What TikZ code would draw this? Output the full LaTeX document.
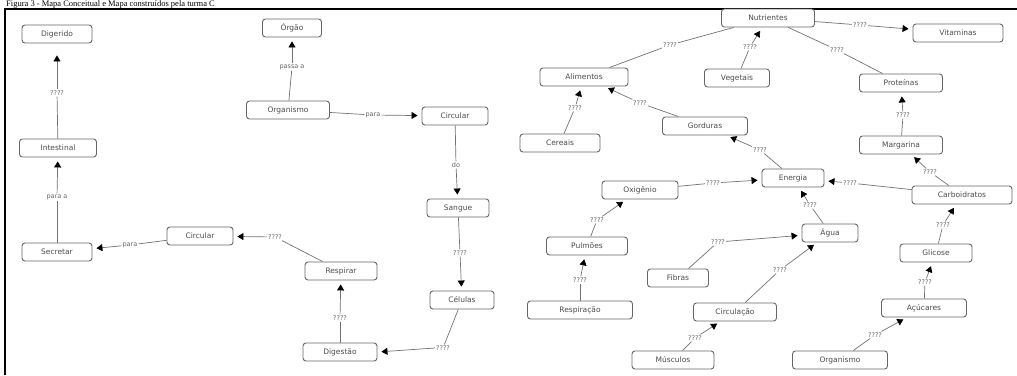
\documentclass[tikz,border=0pt]{standalone}
\usepackage{fontspec}
\setmainfont{DejaVu Sans}
\newfontfamily\capfont{Liberation Serif}
\usetikzlibrary{arrows.meta}
\tikzset{
  cbox/.style={draw=black!60, rounded corners=3pt, line width=0.9pt, fill=white,
    font=\fontsize{7.5}{8}\selectfont, text=black!70, inner sep=1pt, minimum height=18pt},
  lab/.style={font=\fontsize{6.5}{7}\selectfont, text=black!60, inner sep=1pt},
  lnk/.style={draw=black!55, line width=0.7pt},
  arr/.style={lnk, -{Triangle[length=6pt,width=7pt,color=black]}, shorten >=4pt}
}
\begin{document}
\begin{tikzpicture}[x=1pt,y=-1pt]
\useasboundingbox (0,0) rectangle (1017,375);
\fill[white] (0,0) rectangle (1017,375);
% caption
\node[anchor=base west, inner sep=0, font=\capfont\fontsize{8.5}{9}\selectfont] (cap) at (6,6.3) {Figura 3 - Mapa Conceitual e Mapa construídos pela turma C};
% frame
\draw[line width=2pt] (5,375) -- (5,9) -- (1017,9);

% ---------- left map ----------
\node[cbox, minimum width=70pt] (dig) at (57,34) {Digerido};
\node[cbox, minimum width=77pt] (int) at (58,148) {Intestinal};
\node[cbox, minimum width=70pt] (sec) at (57,252) {Secretar};
\node[cbox, minimum width=66pt] (circB) at (200,236) {Circular};
\node[cbox, minimum width=72pt] (resp) at (341,271) {Respirar};
\node[cbox, minimum width=74pt] (dige) at (340,352) {Digestão};
\node[cbox, minimum width=64pt] (cel) at (462,300) {Células};
\node[cbox, minimum width=62pt] (sang) at (458,208) {Sangue};
\node[cbox, minimum width=66pt] (circA) at (455,116) {Circular};
\node[cbox, minimum width=83pt] (org) at (288,110) {Organismo};
\node[cbox, minimum width=59pt] (orgao) at (292,28) {Órgão};

\node[lab] (l1) at (57,93) {????};
\node[lab] (l2) at (57,197) {para a};
\node[lab] (l3) at (130,245) {para};
\node[lab] (l4) at (275,237) {????};
\node[lab] (l5) at (340,318) {????};
\node[lab] (l6) at (443,348) {????};
\node[lab] (l7) at (460,253) {????};
\node[lab] (l8) at (456,165) {do};
\node[lab] (l9) at (373,115) {para};
\node[lab] (l10) at (292,67) {passa a};

\draw[lnk] (int) -- (l1); \draw[arr, shorten >=12pt] (l1) -- (dig);
\draw[lnk] (sec) -- (l2); \draw[arr] (l2) -- (int);
\draw[lnk] (circB) -- (l3); \draw[arr] (l3) -- (sec);
\draw[lnk] (resp) -- (l4); \draw[arr] (l4) -- (circB);
\draw[lnk] (dige) -- (l5); \draw[arr] (l5) -- (resp);
\draw[lnk] (cel) -- (l6); \draw[arr] (l6.west) -- (dige.east);
\draw[lnk] (sang) -- (l7); \draw[arr] (l7) -- (cel);
\draw[lnk] (circA) -- (l8); \draw[arr] (l8) -- (sang);
\draw[lnk] (org) -- (l9); \draw[arr] (l9) -- (circA);
\draw[lnk] (org) -- (l10); \draw[arr] (l10) -- (orgao);

% ---------- right map ----------
\node[cbox, minimum width=93pt] (nut) at (768,18) {Nutrientes};
\node[cbox, minimum width=90pt] (vit) at (958,33) {Vitaminas};
\node[cbox, minimum width=88pt] (ali) at (584,77) {Alimentos};
\node[cbox, minimum width=65pt] (veg) at (737,78) {Vegetais};
\node[cbox, minimum width=83pt] (prot) at (901,83) {Proteínas};
\node[cbox, minimum width=83pt] (marg) at (901,145) {Margarina};
\node[cbox, minimum width=100pt] (carb) at (962,195) {Carboidratos};
\node[cbox, minimum width=62pt] (ener) at (793,178) {Energia};
\node[cbox, minimum width=76pt] (oxi) at (640,190) {Oxigênio};
\node[cbox, minimum width=85pt] (gord) at (705,126) {Gorduras};
\node[cbox, minimum width=80pt] (cer) at (560,143) {Cereais};
\node[cbox, minimum width=81pt] (pulm) at (587,246) {Pulmões};
\node[cbox, minimum width=105pt] (resp2) at (580,310) {Respiração};
\node[cbox, minimum width=61pt] (fib) at (678,278) {Fibras};
\node[cbox, minimum width=56pt] (agua) at (830,233) {Água};
\node[cbox, minimum width=83pt] (circ) at (735,312) {Circulação};
\node[cbox, minimum width=82pt] (musc) at (673,360) {Músculos};
\node[cbox, minimum width=72pt] (glic) at (936,253) {Glicose};
\node[cbox, minimum width=85pt] (acuc) at (924,308) {Açúcares};
\node[cbox, minimum width=95pt] (orgm) at (840,360) {Organismo};

\node[lab] (r1) at (860,25) {????};
\node[lab] (r2) at (670,45) {????};
\node[lab] (r3) at (750,47) {????};
\node[lab] (r4) at (837,50) {????};
\node[lab] (r5) at (903,115) {????};
\node[lab] (r6) at (930,172) {????};
\node[lab] (r7) at (850,183) {????};
\node[lab] (r8) at (713,183) {????};
\node[lab] (r9) at (760,150) {????};
\node[lab] (r10) at (640,103) {????};
\node[lab] (r11) at (575,108) {????};
\node[lab] (r12) at (597,220) {????};
\node[lab] (r13) at (580,280) {????};
\node[lab] (r14) at (718,242) {????};
\node[lab] (r15) at (810,205) {????};
\node[lab] (r16) at (780,270) {????};
\node[lab] (r17) at (695,338) {????};
\node[lab] (r18) at (943,225) {????};
\node[lab] (r19) at (925,282) {????};
\node[lab] (r20) at (875,335) {????};

\draw[lnk] (nut) -- (r1); \draw[arr] (r1) -- (vit);
\draw[lnk] (nut) -- (r2); \draw[lnk] (r2) -- (ali);
\draw[lnk] (veg) -- (r3); \draw[arr] (r3) -- (nut);
\draw[lnk] (nut) -- (r4); \draw[lnk] (r4) -- (prot);
\draw[lnk] (marg) -- (r5); \draw[arr] (r5) -- (prot);
\draw[lnk] (carb) -- (r6); \draw[arr] (r6) -- (marg);
\draw[lnk] (carb) -- (r7); \draw[arr] (r7) -- (ener);
\draw[lnk] (oxi) -- (r8); \draw[arr] (r8) -- (ener);
\draw[lnk] (ener) -- (r9); \draw[arr] (r9) -- (gord);
\draw[lnk] (gord) -- (r10); \draw[arr] (r10) -- (ali);
\draw[lnk] (cer) -- (r11); \draw[arr] (r11) -- (ali);
\draw[lnk] (pulm) -- (r12); \draw[arr] (r12) -- (oxi);
\draw[lnk] (resp2) -- (r13); \draw[arr] (r13) -- (pulm);
\draw[lnk] (fib) -- (r14); \draw[arr] (r14) -- (agua);
\draw[lnk] (agua) -- (r15); \draw[arr] (r15) -- (ener);
\draw[lnk] (circ) -- (r16); \draw[arr] (r16) -- (agua);
\draw[lnk] (musc) -- (r17); \draw[arr] (r17) -- (circ);
\draw[lnk] (glic) -- (r18); \draw[arr] (r18) -- (carb);
\draw[lnk] (acuc) -- (r19); \draw[arr] (r19) -- (glic);
\draw[lnk] (orgm) -- (r20); \draw[arr] (r20) -- (acuc);
\end{tikzpicture}
\end{document}
